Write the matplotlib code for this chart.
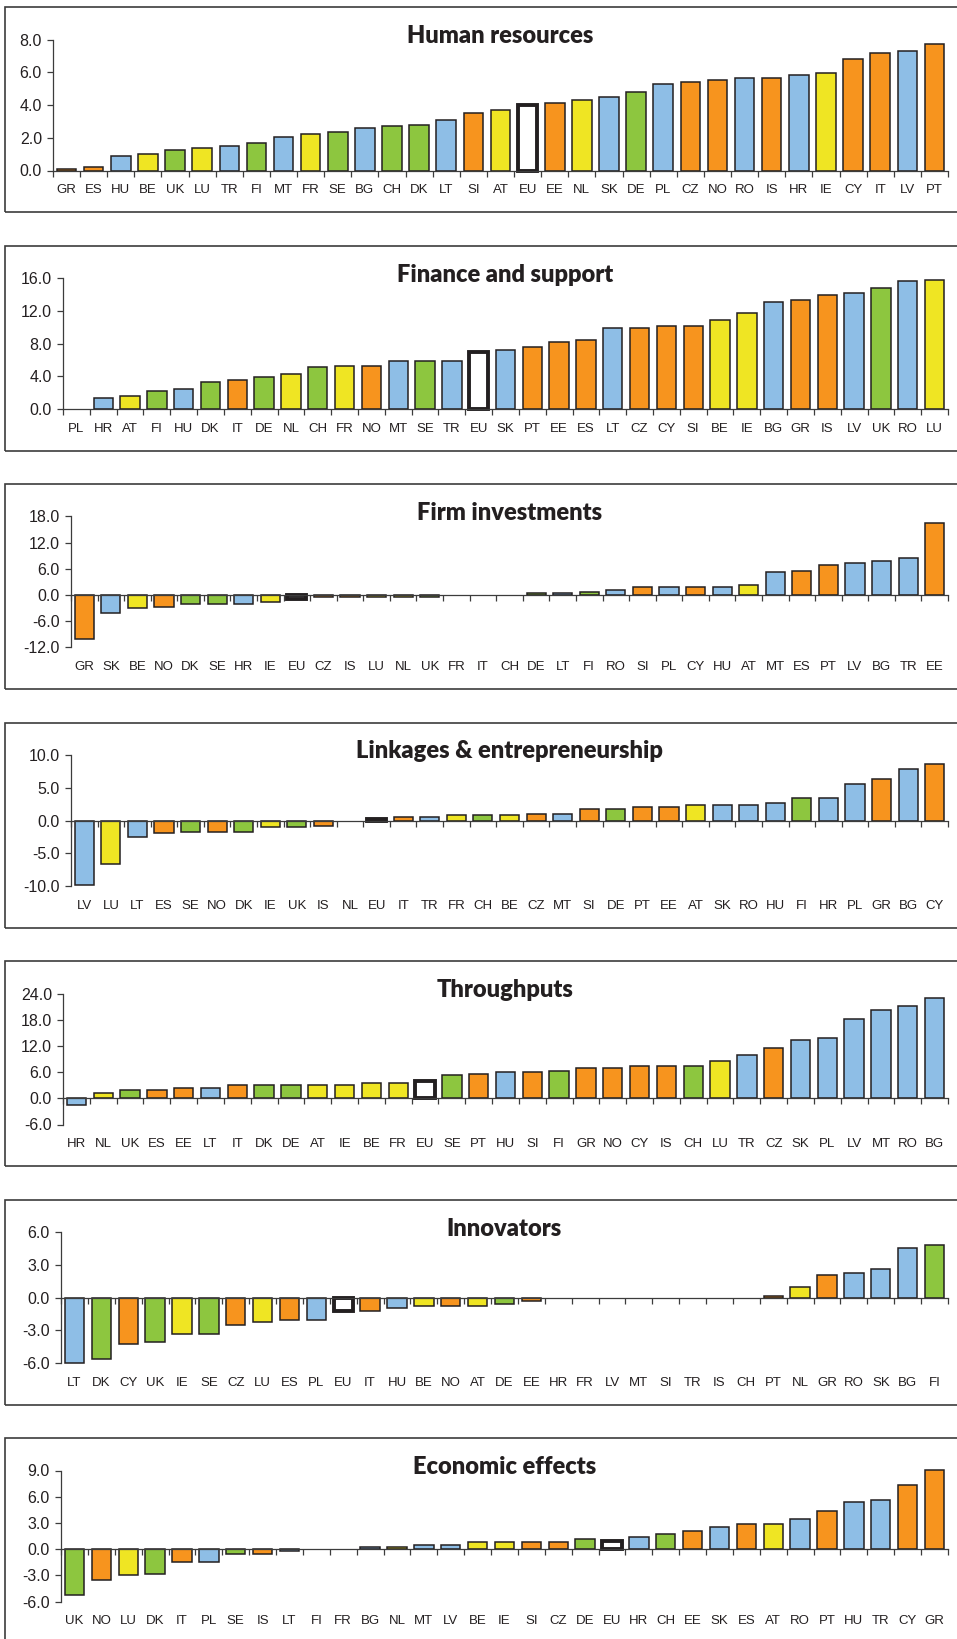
import matplotlib.pyplot as plt
import matplotlib.patches as mpatches
import numpy as np

plt.rcParams['font.family'] = ['Liberation Sans', 'DejaVu Sans']

INK = '#231F20'
FRAME = '#3c3c3c'

# country groups (fixed colour per country)
blue_group = ['HU', 'TR', 'MT', 'BG', 'LT', 'SK', 'PL', 'RO', 'HR', 'LV']
orange_group = ['GR', 'ES', 'SI', 'EE', 'CZ', 'NO', 'IS', 'CY', 'IT', 'PT']
yellow_group = ['BE', 'LU', 'FR', 'AT', 'NL', 'IE']
green_group = ['UK', 'FI', 'SE', 'CH', 'DK', 'DE']
group_colors = {'blue': '#8EBEE6', 'orange': '#F7941E',
                'yellow': '#EFE523', 'green': '#8DC63F'}

# panel data
hr_countries = ['GR', 'ES', 'HU', 'BE', 'UK', 'LU', 'TR', 'FI', 'MT', 'FR', 'SE', 'BG', 'CH',
                'DK', 'LT', 'SI', 'AT', 'EU', 'EE', 'NL', 'SK', 'DE', 'PL', 'CZ', 'NO', 'RO',
                'IS', 'HR', 'IE', 'CY', 'IT', 'LV', 'PT']
hr_values = [0.1, 0.2, 0.9, 1.0, 1.25, 1.4, 1.5, 1.65, 2.05, 2.25, 2.35, 2.6, 2.7,
             2.8, 3.1, 3.5, 3.7, 4.0, 4.1, 4.3, 4.5, 4.8, 5.3, 5.4, 5.55, 5.65,
             5.65, 5.85, 5.95, 6.8, 7.2, 7.3, 7.7]

fin_countries = ['PL', 'HR', 'AT', 'FI', 'HU', 'DK', 'IT', 'DE', 'NL', 'CH', 'FR', 'NO', 'MT',
                 'SE', 'TR', 'EU', 'SK', 'PT', 'EE', 'ES', 'LT', 'CZ', 'CY', 'SI', 'BE', 'IE',
                 'BG', 'GR', 'IS', 'LV', 'UK', 'RO', 'LU']
fin_values = [0.0, 1.4, 1.6, 2.2, 2.4, 3.3, 3.5, 3.9, 4.3, 5.1, 5.3, 5.3, 5.9,
              5.9, 5.9, 7.0, 7.2, 7.6, 8.2, 8.4, 9.9, 9.9, 10.1, 10.1, 10.9, 11.7,
              13.1, 13.3, 13.9, 14.2, 14.8, 15.6, 15.8]

inv_countries = ['GR', 'SK', 'BE', 'NO', 'DK', 'SE', 'HR', 'IE', 'EU', 'CZ', 'IS', 'LU', 'NL',
                 'UK', 'FR', 'IT', 'CH', 'DE', 'LT', 'FI', 'RO', 'SI', 'PL', 'CY', 'HU', 'AT',
                 'MT', 'ES', 'PT', 'LV', 'BG', 'TR', 'EE']
inv_values = [-10.0, -4.2, -3.0, -2.7, -2.0, -2.0, -2.0, -1.5, -1.0, -0.5, -0.5, -0.5, -0.5,
              -0.5, 0.0, 0.0, 0.0, 0.4, 0.4, 0.75, 1.1, 1.9, 1.9, 1.9, 1.9, 2.3,
              5.3, 5.6, 7.0, 7.4, 7.8, 8.5, 16.6]

link_countries = ['LV', 'LU', 'LT', 'ES', 'SE', 'NO', 'DK', 'IE', 'UK', 'IS', 'NL', 'EU', 'IT',
                  'TR', 'FR', 'CH', 'BE', 'CZ', 'MT', 'SI', 'DE', 'PT', 'EE', 'AT', 'SK', 'RO',
                  'HU', 'FI', 'HR', 'PL', 'GR', 'BG', 'CY']
link_values = [-9.9, -6.7, -2.5, -1.9, -1.7, -1.7, -1.7, -1.0, -1.0, -0.8, 0.0, 0.3, 0.5,
               0.5, 0.8, 0.8, 0.8, 1.0, 1.0, 1.7, 1.7, 2.0, 2.0, 2.4, 2.4, 2.4,
               2.6, 3.4, 3.4, 5.6, 6.3, 7.8, 8.6]

thr_countries = ['HR', 'NL', 'UK', 'ES', 'EE', 'LT', 'IT', 'DK', 'DE', 'AT', 'IE', 'BE', 'FR',
                 'EU', 'SE', 'PT', 'HU', 'SI', 'FI', 'GR', 'NO', 'CY', 'IS', 'CH', 'LU', 'TR',
                 'CZ', 'SK', 'PL', 'LV', 'MT', 'RO', 'BG']
thr_values = [-1.6, 1.1, 2.0, 2.0, 2.3, 2.3, 3.0, 3.0, 3.0, 3.0, 3.0, 3.4, 3.4,
              4.0, 5.3, 5.6, 6.0, 6.0, 6.3, 7.0, 7.0, 7.4, 7.4, 7.4, 8.5, 10.0,
              11.5, 13.4, 13.7, 18.1, 20.3, 21.1, 22.9]

inn_countries = ['LT', 'DK', 'CY', 'UK', 'IE', 'SE', 'CZ', 'LU', 'ES', 'PL', 'EU', 'IT', 'HU',
                 'BE', 'NO', 'AT', 'DE', 'EE', 'HR', 'FR', 'LV', 'MT', 'SI', 'TR', 'IS', 'CH',
                 'PT', 'NL', 'GR', 'RO', 'SK', 'BG', 'FI']
inn_values = [-6.0, -5.6, -4.3, -4.1, -3.3, -3.3, -2.5, -2.2, -2.1, -2.1, -1.2, -1.2, -1.0,
              -0.75, -0.75, -0.75, -0.6, -0.3, 0.0, 0.0, 0.0, 0.0, 0.0, 0.0, 0.0, 0.0,
              0.15, 1.0, 2.05, 2.25, 2.65, 4.5, 4.85]

eco_countries = ['UK', 'NO', 'LU', 'DK', 'IT', 'PL', 'SE', 'IS', 'LT', 'FI', 'FR', 'BG', 'NL',
                 'MT', 'LV', 'BE', 'IE', 'SI', 'CZ', 'DE', 'EU', 'HR', 'CH', 'EE', 'SK', 'ES',
                 'AT', 'RO', 'PT', 'HU', 'TR', 'CY', 'GR']
eco_values = [-5.2, -3.5, -3.0, -2.8, -1.5, -1.5, -0.55, -0.55, -0.2, 0.0, 0.0, 0.25, 0.25,
              0.45, 0.45, 0.8, 0.8, 0.8, 0.8, 1.15, 0.9, 1.35, 1.75, 2.1, 2.5, 2.85,
              2.85, 3.4, 4.35, 5.4, 5.6, 7.3, 9.1]

titles = ['Human resources', 'Finance and support', 'Firm investments',
          'Linkages & entrepreneurship', 'Throughputs', 'Innovators', 'Economic effects']
yticks_list = [[0, 2, 4, 6, 8], [0, 4, 8, 12, 16], [-12, -6, 0, 6, 12, 18],
               [-10, -5, 0, 5, 10], [-6, 0, 6, 12, 18, 24], [-6, -3, 0, 3, 6],
               [-6, -3, 0, 3, 6, 9]]
panels = [(hr_countries, hr_values), (fin_countries, fin_values),
          (inv_countries, inv_values), (link_countries, link_values),
          (thr_countries, thr_values), (inn_countries, inn_values),
          (eco_countries, eco_values)]


def color_of(c):
    if c == 'EU':
        return 'white'
    for name, members in (('blue', blue_group), ('orange', orange_group),
                          ('yellow', yellow_group), ('green', green_group)):
        if c in members:
            return group_colors[name]
    return 'grey'


W, H = 957, 1639
fig = plt.figure(figsize=(W / 100, H / 100), dpi=100)
axes_left = [53, 63, 71, 71, 63, 61, 61]
axes_right = 948

for i, ((countries, values), title, yticks) in enumerate(zip(panels, titles, yticks_list)):
    top = 7 + 238.5 * i
    fig.patches.append(mpatches.Rectangle(
        (5 / W, 1 - (top + 205) / H), 1.1, 205 / H, transform=fig.transFigure,
        fill=False, lw=1.2, ec=FRAME))

    left = axes_left[i]
    ax = fig.add_axes([left / W, 1 - (top + 163.5) / H, (axes_right - left) / W, 131 / H])
    x = np.arange(len(countries))
    colors = [color_of(c) for c in countries]
    lws = [2.8 if c == 'EU' else (0 if v == 0 else 1.1) for c, v in zip(countries, values)]
    bars = ax.bar(x, values, width=0.72, color=colors, edgecolor=INK, linewidth=lws, zorder=3)
    for b in bars:
        b.set_clip_on(False)

    ax.set_xlim(-0.5, len(countries) - 0.5)
    ax.set_ylim(yticks[0], yticks[-1])
    ax.set_yticks(yticks)
    ax.set_yticklabels([f'{t:.1f}' for t in yticks])

    for s in ['top', 'right']:
        ax.spines[s].set_visible(False)
    ax.spines['left'].set_color(FRAME)
    ax.spines['left'].set_linewidth(0.9)
    ax.spines['bottom'].set_position(('data', 0))
    ax.spines['bottom'].set_color(FRAME)
    ax.spines['bottom'].set_linewidth(0.9)
    ax.spines['bottom'].set_zorder(4)

    ax.set_xticks(np.arange(-0.5, len(countries), 1))
    ax.tick_params(axis='x', direction='out', length=4, width=0.9, color=FRAME,
                   labelbottom=False)
    ax.tick_params(axis='y', direction='out', length=4, width=0.9, color=FRAME,
                   labelsize=11.5, labelcolor=INK, pad=4)

    sec = ax.secondary_xaxis('bottom')
    sec.set_xticks(x, countries)
    sec.tick_params(length=0, pad=10, labelsize=9.5, labelcolor=INK)
    sec.spines['bottom'].set_visible(False)

    cx = (left + axes_right) / 2 / W
    fig.text(cx, 1 - (top + 36) / H, title, ha='center', va='baseline',
             fontsize=17, fontweight='heavy', color=INK, family=['Lato', 'DejaVu Sans'])

fig.savefig('out.png', dpi=100)
